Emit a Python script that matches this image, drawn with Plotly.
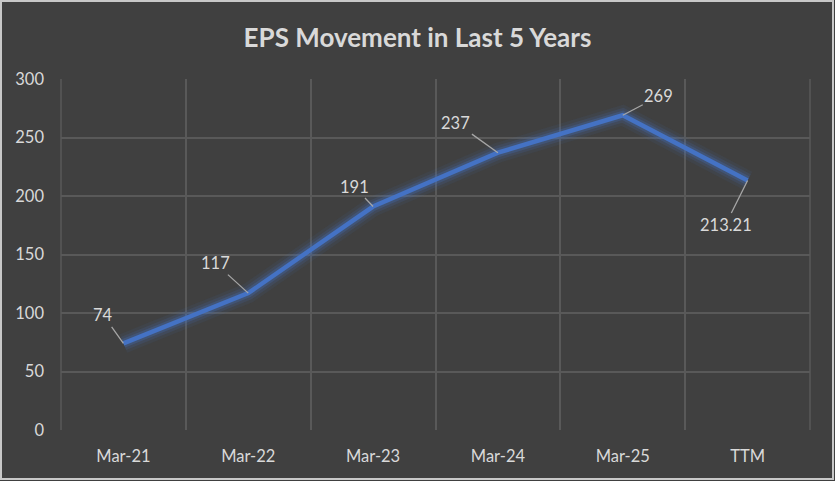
import plotly.graph_objects as go

categories = ["Mar-21", "Mar-22", "Mar-23", "Mar-24", "Mar-25", "TTM"]
eps_values = [74, 117, 191, 237, 269, 213.21]
label_texts = ["74", "117", "191", "237", "269", "213.21"]
y_ticks = [0, 50, 100, 150, 200, 250, 300]

W, H = 835, 481
ML, MR, MT, MB = 61, 25, 79, 51
PW, PH = W - ML - MR, H - MT - MB

LINE = "#4472C4"
TXT = "#D9D9D9"
GRID = "#595959"
FONT = "Lato"

fig = go.Figure()
# glow layers
for w, a in [(20, 0.08), (14, 0.14), (9, 0.25)]:
    fig.add_trace(go.Scatter(x=categories, y=eps_values, mode="lines",
                             line=dict(color=f"rgba(68,114,196,{a})", width=w),
                             hoverinfo="skip", showlegend=False))
fig.add_trace(go.Scatter(x=categories, y=eps_values, mode="lines",
                         line=dict(color=LINE, width=4.5), showlegend=False))

# label offsets (pixels) relative to point
offsets = [(-20, -28), (-33, -30), (-19, -20), (-42, -30), (36, -19), (-22, 44)]
for c, v, t, (ax, ay) in zip(categories, eps_values, label_texts, offsets):
    fig.add_annotation(x=c, y=v, text=t, showarrow=True, arrowhead=0,
                       arrowwidth=1.3, arrowcolor="#A6A6A6", ax=ax, ay=ay,
                       standoff=0, startstandoff=0,
                       font=dict(family=FONT, size=16.5, color=TXT))

def px_x(p):
    return (p - ML) / PW

def px_y(p):
    return (H - MB - p) / PH

# outer chart border
fig.add_shape(type="rect", xref="paper", yref="paper",
              x0=px_x(1), x1=px_x(W - 2), y0=px_y(H - 2), y1=px_y(1),
              line=dict(color="#C8C8C8", width=2), fillcolor="rgba(0,0,0,0)",
              layer="below")
# left / right plot-area edge gridlines
for xe in (0, 1):
    fig.add_shape(type="line", xref="paper", yref="paper", x0=xe, x1=xe,
                  y0=0, y1=1, line=dict(color=GRID, width=1.5), layer="below")

fig.update_layout(
    width=W, height=H,
    margin=dict(l=ML, r=MR, t=MT, b=MB),
    paper_bgcolor="#404040", plot_bgcolor="#404040",
    title=dict(text="<b>EPS Movement in Last 5 Years</b>", x=0.5, xref="container",
               xanchor="center", y=1 - 38 / H, yanchor="middle",
               font=dict(family=FONT, size=26, color=TXT)),
    font=dict(family=FONT, color=TXT, size=16),
    showlegend=False,
)
fig.update_xaxes(type="category", range=[-0.5, len(categories) - 0.5],
                 tickson="boundaries", showgrid=True,
                 gridcolor=GRID, gridwidth=1.5, ticks="", showline=False,
                 zeroline=False, ticklabelstandoff=14,
                 tickfont=dict(family=FONT, size=16.5, color=TXT))
fig.update_yaxes(range=[0, 300], tickvals=y_ticks, showgrid=False,
                 minor=dict(tickvals=y_ticks[1:], showgrid=True,
                            gridcolor=GRID, gridwidth=1.5, ticks=""),
                 zeroline=False, showline=False, ticks="", ticklabelstandoff=16,
                 tickfont=dict(family=FONT, size=16.5, color=TXT))

fig.write_html("out.html")
